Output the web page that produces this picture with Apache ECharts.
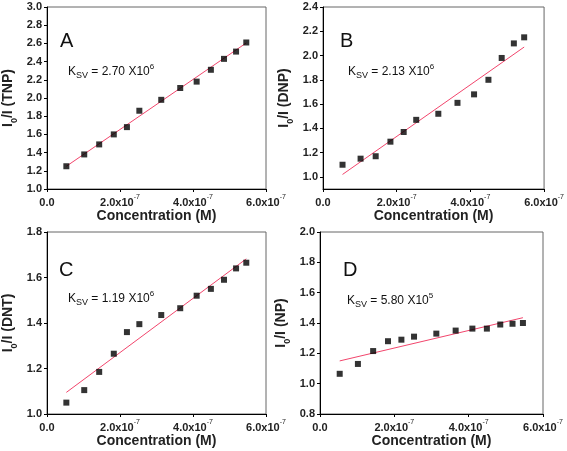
<!DOCTYPE html>
<html><head><meta charset="utf-8">
<script src="https://cdn.jsdelivr.net/npm/echarts@6/dist/echarts.min.js"></script>
<style>html,body{margin:0;padding:0;background:#fff}#c{width:567px;height:451px}</style>
</head><body><div id="c"></div>
<script>
// Concentration (M)
const conc = [0.53e-7, 1.02e-7, 1.43e-7, 1.83e-7, 2.19e-7, 2.53e-7, 3.13e-7, 3.65e-7, 4.10e-7, 4.49e-7, 4.85e-7, 5.18e-7, 5.46e-7];
// I0/I values
const tnp = [1.25, 1.38, 1.49, 1.60, 1.68, 1.86, 1.98, 2.11, 2.18, 2.31, 2.43, 2.51, 2.61];
const dnp = [1.10, 1.15, 1.17, 1.29, 1.37, 1.47, 1.52, 1.61, 1.68, 1.80, 1.98, 2.10, 2.15];
const dnt = [1.05, 1.105, 1.185, 1.265, 1.36, 1.395, 1.435, 1.465, 1.52, 1.55, 1.59, 1.64, 1.665];
const np  = [1.065, 1.13, 1.215, 1.28, 1.29, 1.31, 1.33, 1.35, 1.363, 1.363, 1.39, 1.395, 1.40];
// Linear fit values at first and last concentration
const fitTNP = [1.25, 2.605];
const fitDNP = [1.02, 2.07];
const fitDNT = [1.095, 1.682];
const fitNP  = [1.15, 1.435];
// Labels
const panelLetters = ['A', 'B', 'C', 'D'];
const analytes = ['TNP', 'DNP', 'DNT', 'NP'];
const ksvMantissa = ['2.70', '2.13', '1.19', '5.80'];
const ksvExponent = ['6', '6', '6', '5'];
const xTicks = [0, 2e-7, 4e-7, 6e-7];
const yTicksA = [1.0, 1.2, 1.4, 1.6, 1.8, 2.0, 2.2, 2.4, 2.6, 2.8, 3.0];
const yTicksB = [1.0, 1.2, 1.4, 1.6, 1.8, 2.0, 2.2, 2.4];
const yTicksC = [1.0, 1.2, 1.4, 1.6, 1.8];
const yTicksD = [0.8, 1.0, 1.2, 1.4, 1.6, 1.8, 2.0];

const values = [tnp, dnp, dnt, np];
const fits = [fitTNP, fitDNP, fitDNT, fitNP];
const yTicks = [yTicksA, yTicksB, yTicksC, yTicksD];
const yMin = [1.0, 0.9, 1.0, 0.8];

const FONT = 'Arial, "Liberation Sans", sans-serif';
const grids = [
  {left: 41, top: 7, width: 225, height: 182},
  {left: 323, top: 7, width: 223, height: 182},
  {left: 41, top: 232, width: 225, height: 182},
  {left: 320, top: 232, width: 223, height: 182}
];
const letterPos = [[60, 31], [340, 31], [59, 260], [343, 260]];
const ksvPos = [[68, 63], [348, 63], [68, 290], [347, 292]];

const chart = echarts.init(document.getElementById('c'), null, {renderer: 'canvas'});

const option = {
  backgroundColor: '#fff',
  animation: false,
  grid: grids.map(g => Object.assign({show: true, borderColor: '#666', borderWidth: 1, containLabel: false}, g)),
  xAxis: grids.map((g, i) => ({
    gridIndex: i, type: 'value', min: xTicks[0], max: xTicks[xTicks.length - 1], interval: xTicks[1] - xTicks[0],
    axisLine: {show: true, onZero: false, lineStyle: {color: '#000', width: 1}},
    axisTick: {show: true, inside: false, length: 3, lineStyle: {color: '#000'}},
    splitLine: {show: false},
    axisLabel: {
      margin: 5, color: '#222', fontFamily: FONT,
      formatter: v => {
        const m = v * 1e7;
        if (Math.abs(m) < 1e-9) return '{a|0.0}';
        return '{a|' + m.toFixed(1) + 'x10}{s|-7}';
      },
      rich: {
        a: {fontSize: 11, fontWeight: 'bold', fontFamily: FONT, color: '#222', lineHeight: 14, verticalAlign: 'bottom'},
        s: {fontSize: 7, fontFamily: FONT, color: '#222', verticalAlign: 'top', lineHeight: 14}
      }
    },
    name: 'Concentration (M)', nameLocation: 'middle', nameGap: 19,
    nameTextStyle: {fontSize: 14, fontWeight: 'bold', fontFamily: FONT, color: '#222'}
  })),
  yAxis: grids.map((g, i) => {
    const t = yTicks[i];
    const ax = {
      gridIndex: i, type: 'value', min: yMin[i], max: t[t.length - 1],
      axisLine: {show: true, onZero: false, lineStyle: {color: '#000', width: 1}},
      axisTick: {show: true, inside: false, length: 3, lineStyle: {color: '#000'}},
      splitLine: {show: false},
      axisLabel: {margin: 5, fontSize: 11, fontWeight: 'bold', fontFamily: FONT, color: '#222',
        formatter: v => v.toFixed(1)},
      name: '{b|I}{s|0}{b|/I (' + analytes[i] + ')}',
      nameLocation: 'middle', nameRotate: 90, nameGap: 28,
      nameTextStyle: {
        rich: {
          b: {fontSize: 14, fontWeight: 'bold', fontFamily: FONT, color: '#222', lineHeight: 18, verticalAlign: 'top'},
          s: {fontSize: 9, fontWeight: 'bold', fontFamily: FONT, color: '#222', lineHeight: 18, verticalAlign: 'bottom'}
        }
      }
    };
    if (yMin[i] === t[0]) {
      ax.interval = t[1] - t[0];
    } else {
      ax.axisLabel.customValues = t;
      ax.axisTick.customValues = t;
    }
    return ax;
  }),
  series: [].concat(...values.map((vals, i) => [
    {
      type: 'line', xAxisIndex: i, yAxisIndex: i, silent: true,
      data: [[conc[0], fits[i][0]], [conc[conc.length - 1], fits[i][1]]],
      showSymbol: false, symbol: 'none',
      lineStyle: {color: '#f2456c', width: 1}, z: 2
    },
    {
      type: 'scatter', xAxisIndex: i, yAxisIndex: i, silent: true,
      data: conc.map((x, j) => [x, vals[j]]),
      symbol: 'rect', symbolSize: 6,
      itemStyle: {color: '#000'}, z: 3
    }
  ])),
  graphic: [].concat(
    panelLetters.map((L, i) => ({
      type: 'text', left: letterPos[i][0], top: letterPos[i][1], silent: true,
      style: {text: L, fontSize: 20, fontFamily: FONT, fill: '#111'}
    })),
    ksvMantissa.map((m, i) => ({
      type: 'text', left: ksvPos[i][0], top: ksvPos[i][1], silent: true,
      style: {
        text: '{k|K}{s|SV}{k| = ' + m + ' X10}{e|' + ksvExponent[i] + '}',
        rich: {
          k: {fontSize: 12, fontFamily: FONT, fill: '#111', lineHeight: 17, verticalAlign: 'middle'},
          s: {fontSize: 9, fontFamily: FONT, fill: '#111', lineHeight: 17, verticalAlign: 'bottom'},
          e: {fontSize: 8, fontFamily: FONT, fill: '#111', lineHeight: 17, verticalAlign: 'top'}
        }
      }
    }))
  )
};
chart.setOption(option);
</script>
</body></html>
